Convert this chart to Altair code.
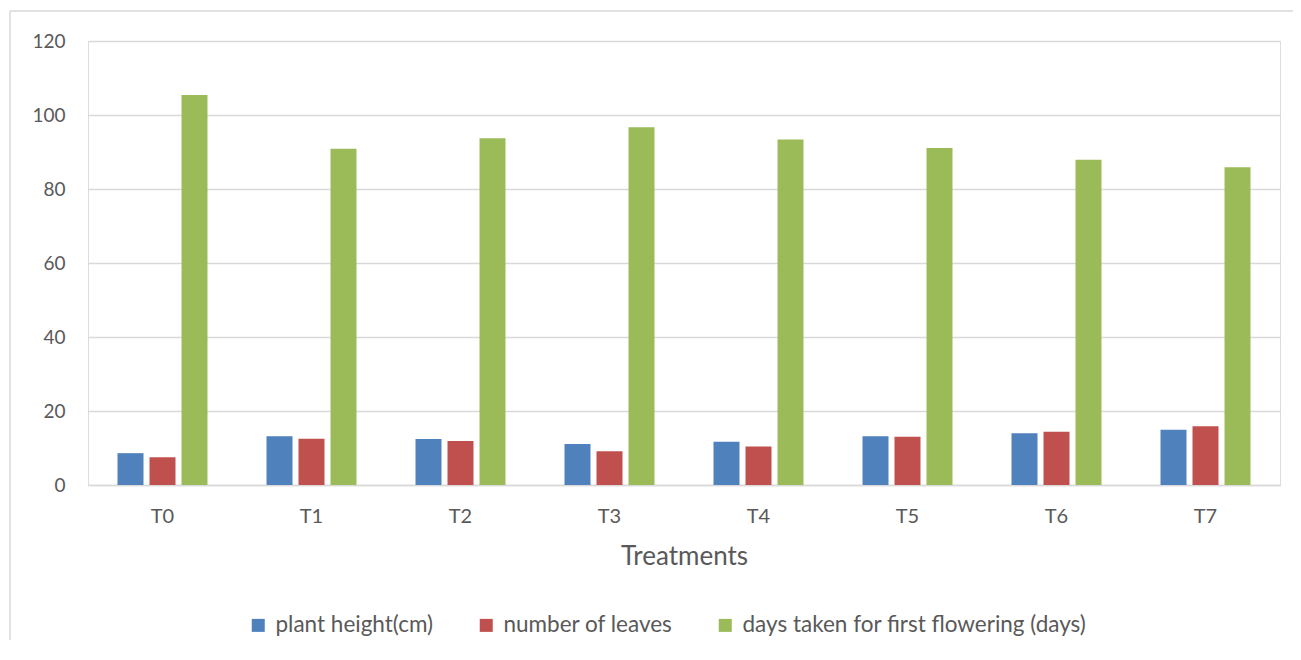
import altair as alt
import pandas as pd

treatments = ["T0", "T1", "T2", "T3", "T4", "T5", "T6", "T7"]
plant_height = [8.6, 13.2, 12.4, 11.1, 11.7, 13.2, 14.0, 14.9]
num_leaves = [7.5, 12.5, 11.9, 9.1, 10.4, 13.05, 14.4, 15.9]
days_flowering = [105.4, 90.9, 93.7, 96.7, 93.4, 91.1, 87.9, 85.9]
series_names = ["plant height(cm)", "number of leaves", "days taken for first flowering (days)"]
series_colors = ["#4F81BD", "#C0504D", "#9BBB59"]
y_ticks = [0, 20, 40, 60, 80, 100, 120]

rows = []
for name, vals in zip(series_names, [plant_height, num_leaves, days_flowering]):
    for t, v in zip(treatments, vals):
        rows.append({"Treatment": t, "Series": name, "Value": v})
df = pd.DataFrame(rows)

FONT = "Lato"
TXT = "#595959"

bars = alt.Chart(df).mark_bar().encode(
    x=alt.X("Treatment:N", sort=treatments,
            scale=alt.Scale(paddingInner=0.396, paddingOuter=0.198),
            axis=alt.Axis(title="Treatments", labelAngle=0, ticks=False, domain=True,
                          domainColor="#d9d9d9", domainWidth=1.5,
                          labelPadding=21, titlePadding=17,
                          labelFontSize=20, titleFontSize=26,
                          labelColor=TXT, titleColor=TXT,
                          labelFont=FONT, titleFont=FONT, titleFontWeight="normal")),
    xOffset=alt.XOffset("Series:N", sort=series_names,
                        scale=alt.Scale(paddingInner=0.1875, paddingOuter=0)),
    y=alt.Y("Value:Q", scale=alt.Scale(domain=[0, 120], nice=False),
            axis=alt.Axis(title=None, values=y_ticks, ticks=False, domain=False,
                          grid=True, gridColor="#d9d9d9", gridWidth=1.5,
                          labelPadding=23, labelFontSize=19, labelColor=TXT,
                          labelFont=FONT)),
    color=alt.Color("Series:N", sort=series_names,
                    scale=alt.Scale(domain=series_names, range=series_colors),
                    legend=alt.Legend(title=None, orient="none", direction="horizontal",
                                      legendX=159, legendY=573,
                                      symbolType="square", symbolSize=169,
                                      symbolStrokeWidth=0, symbolOpacity=1,
                                      labelFontSize=22.5, labelColor=TXT, labelFont=FONT,
                                      labelLimit=0, labelOffset=6, columnPadding=41)),
)

frame_left = alt.Chart(pd.DataFrame({"a": [0]})).mark_rule(
    stroke="#d9d9d9", strokeWidth=1.5
).encode(x=alt.value(-78), y=alt.value(-30), y2=alt.value(800))

frame_top = alt.Chart(pd.DataFrame({"a": [0]})).mark_rule(
    stroke="#d9d9d9", strokeWidth=1.5
).encode(x=alt.value(-78), x2=alt.value(1400), y=alt.value(-30))

chart = alt.layer(frame_left, frame_top, bars).properties(
    width=1192, height=444,
    autosize=alt.AutoSizeParams(type="none"),
    padding={"left": 80, "top": 33, "right": 13, "bottom": 155},
).configure_view(stroke=None).configure(background="white")

chart.save("out.html", embed_options={"renderer": "svg", "actions": False})
